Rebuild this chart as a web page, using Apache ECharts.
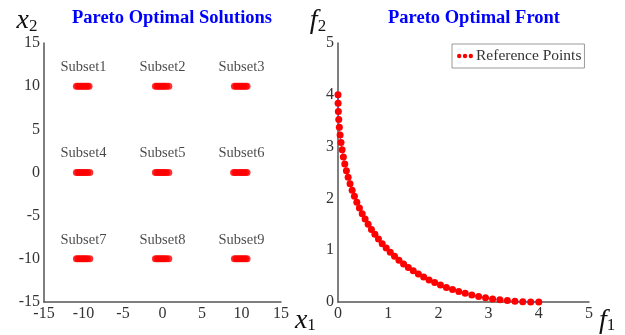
<!DOCTYPE html>
<html><head><meta charset="utf-8">
<script src="https://cdn.jsdelivr.net/npm/echarts@6/dist/echarts.min.js"></script>
<style>html,body{margin:0;padding:0;background:#fff}#c{width:625px;height:335px}</style>
</head><body><div id="c"></div>
<script>
// ---- data ----
const subsetNames = ['Subset1','Subset2','Subset3','Subset4','Subset5','Subset6','Subset7','Subset8','Subset9'];
const subsetCenterX = [-10, 0, 10, -10, 0, 10, -10, 0, 10];
const subsetY = [10, 10, 10, 0, 0, 0, -10, -10, -10];
const subsetLabelOffset = 2.2;
const subsetX = [
  [-10.9,-10.7,-10.5,-10.3,-10.1,-9.9,-9.7,-9.5,-9.3],
  [-0.9,-0.7,-0.5,-0.3,-0.1,0.1,0.3,0.5,0.8],
  [9.1,9.3,9.5,9.7,9.9,10.1,10.3,10.5,10.7],
  [-10.9,-10.7,-10.5,-10.3,-10.1,-9.9,-9.7,-9.5,-9.2],
  [-0.9,-0.7,-0.5,-0.3,-0.1,0.1,0.3,0.5,0.8],
  [9.0,9.2,9.4,9.7,9.9,10.1,10.3,10.5,10.7],
  [-10.9,-10.7,-10.5,-10.3,-10.1,-9.9,-9.7,-9.5,-9.2],
  [-0.9,-0.7,-0.5,-0.3,-0.1,0.1,0.3,0.5,0.8],
  [9.1,9.3,9.5,9.7,9.9,10.1,10.3,10.5,10.7]
];
const frontF1 = [0,0.002,0.007,0.015,0.027,0.042,0.060,0.082,0.107,0.135,0.167,0.202,0.240,0.282,0.327,0.375,0.427,0.482,0.540,0.601,0.666,0.735,0.806,0.881,0.960,1.041,1.126,1.214,1.306,1.401,1.499,1.601,1.706,1.814,1.926,2.041,2.159,2.281,2.406,2.534,2.666,2.801,2.939,3.080,3.225,3.374,3.525,3.680,3.838,4.000];
const frontF2 = [4.000,3.838,3.680,3.525,3.374,3.225,3.080,2.939,2.801,2.666,2.534,2.406,2.281,2.159,2.041,1.926,1.814,1.706,1.601,1.499,1.401,1.306,1.214,1.126,1.041,0.960,0.881,0.806,0.735,0.666,0.601,0.540,0.482,0.427,0.375,0.327,0.282,0.240,0.202,0.167,0.135,0.107,0.082,0.060,0.042,0.027,0.015,0.007,0.002,0];
const leftTicks = {min:-15, max:15, interval:5};
const rightTicks = {min:0, max:5, interval:1};

// ---- chart ----
const serif = 'Liberation Serif';
const axisLineStyle = {show:true, onZero:false, lineStyle:{color:'#555', width:1.5}};
const axisLabel = {fontFamily:serif, fontSize:16, color:'#333', margin:4};
const nameRich = {
  i:{fontFamily:serif, fontStyle:'italic', fontSize:28, color:'#111'},
  s:{fontFamily:serif, fontSize:17, color:'#111', padding:[10,0,0,0]}
};
function axisBase(extra){
  return Object.assign({
    type:'value', axisLine:axisLineStyle, axisTick:{show:false},
    splitLine:{show:false}, axisLabel:axisLabel
  }, extra);
}
const series = [];
subsetNames.forEach((n, k) => {
  series.push({
    type:'scatter', xAxisIndex:0, yAxisIndex:0, symbol:'circle', symbolSize:7,
    itemStyle:{color:'#ff0000'}, silent:true,
    data: subsetX[k].map(x => [x, subsetY[k]])
  });
});
series.push({
  type:'scatter', xAxisIndex:0, yAxisIndex:0, symbolSize:0, silent:true,
  data: subsetNames.map((n,k) => ({value:[subsetCenterX[k], subsetY[k] + subsetLabelOffset], name:n})),
  label:{show:true, position:'inside', formatter:p => p.name, fontFamily:serif, fontSize:14.5, color:'#1a1a1a'}
});
series.push({
  name:'Reference Points', type:'line', xAxisIndex:1, yAxisIndex:1,
  data: frontF1.map((f, i) => [f, frontF2[i]]),
  symbol:'circle', symbolSize:7, showSymbol:true,
  lineStyle:{color:'#4040ff', width:0.8},
  itemStyle:{color:'#ff0000', borderWidth:0}, silent:true
});

const option = {
  animation:false,
  backgroundColor:'#fff',
  title:[
    {text:'Pareto Optimal Solutions', left:167, top:4, textAlign:'center',
     textStyle:{fontFamily:serif, fontWeight:'bold', fontSize:18.5, color:'#0000ff'}},
    {text:'Pareto Optimal Front', left:469, top:4, textAlign:'center',
     textStyle:{fontFamily:serif, fontWeight:'bold', fontSize:18.5, color:'#0000ff'}}
  ],
  legend:{
    data:[{name:'Reference Points', icon:'path://M0,3a3,3 0 1,0 6,0a3,3 0 1,0 -6,0M8,3a3,3 0 1,0 6,0a3,3 0 1,0 -6,0M16,3a3,3 0 1,0 6,0a3,3 0 1,0 -6,0', itemStyle:{color:'#ff0000'}}],
    left:452, top:44, itemWidth:16, itemHeight:5, itemGap:4,
    borderColor:'#999', borderWidth:1, padding:[4,3,4,5],
    textStyle:{fontFamily:serif, fontSize:15.5, color:'#333', padding:[0,0,0,-2]}
  },
  grid:[
    {left:44, top:43, width:237, height:259},
    {left:338, top:43, width:251, height:259}
  ],
  xAxis:[
    axisBase(Object.assign({gridIndex:0, name:'{i|x}{s|1}', nameLocation:'end', nameGap:11,
      nameTextStyle:{rich:nameRich, padding:[38,0,0,0]}}, leftTicks)),
    axisBase(Object.assign({gridIndex:1, name:'{i|f}{s|1}', nameLocation:'end', nameGap:8,
      nameTextStyle:{rich:nameRich, padding:[38,0,0,0]}}, rightTicks))
  ],
  yAxis:[
    axisBase(Object.assign({gridIndex:0, name:'{i|x}{s|2}', nameLocation:'end', nameGap:6,
      nameTextStyle:{rich:nameRich, align:'center', padding:[0,34,0,0]}}, leftTicks)),
    axisBase(Object.assign({gridIndex:1, name:'{i|f}{s|2}', nameLocation:'end', nameGap:6,
      nameTextStyle:{rich:nameRich, align:'center', padding:[0,40,0,0]}}, rightTicks))
  ],
  series:series
};
const chart = echarts.init(document.getElementById('c'), null, {renderer:'canvas'});
chart.setOption(option);
</script></body></html>
